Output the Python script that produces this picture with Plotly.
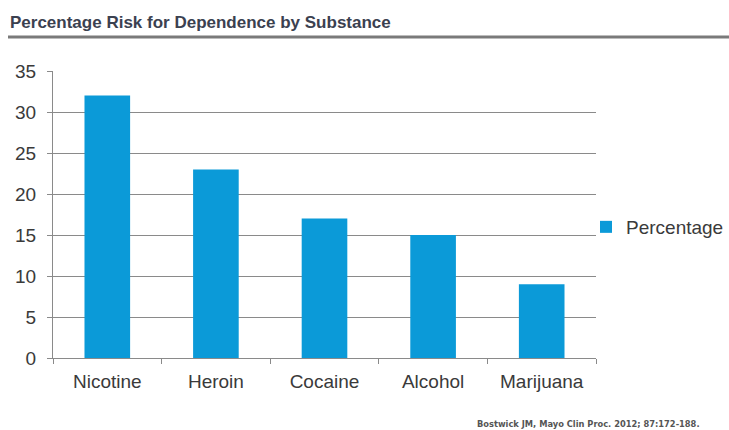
import plotly.graph_objects as go

substances = ["Nicotine", "Heroin", "Cocaine", "Alcohol", "Marijuana"]
risk_pct = [32, 23, 17, 15, 9]
y_ticks = [0, 5, 10, 15, 20, 25, 30, 35]

# plot area in pixels (figure is 729 x 430)
W, H = 729, 430
L, R, T, B = 53, 596, 71, 358
pw, ph = R - L, B - T

def px_x(x):
    return (x - L) / pw

def px_y(y):
    return (B - y) / ph

label_col = "#3a3a3a"
fig = go.Figure(
    go.Bar(
        x=substances,
        y=risk_pct,
        name="Percentage",
        marker=dict(color="#0B9AD8", line=dict(width=0)),
    )
)

grey = "#8a8a8a"
fig.update_layout(
    width=W,
    height=H,
    margin=dict(l=L, r=W - R, t=T, b=H - B, pad=0, autoexpand=False),
    paper_bgcolor="white",
    plot_bgcolor="white",
    bargap=0.58,
    font=dict(family="Liberation Sans, Arial, sans-serif", color=label_col, size=19),
    showlegend=True,
    legend=dict(
        x=px_x(586),
        y=px_y(227),
        xanchor="left",
        yanchor="middle",
        font=dict(size=19, color=label_col),
        bgcolor="rgba(0,0,0,0)",
        itemwidth=30,
    ),
    xaxis=dict(
        type="category",
        showline=True,
        linecolor=grey,
        linewidth=1,
        ticks="outside",
        tickson="boundaries",
        ticklen=5,
        tickcolor=grey,
        showgrid=False,
        tickfont=dict(size=19, color=label_col),
        ticklabelstandoff=6,
    ),
    yaxis=dict(
        range=[0, 35],
        tickvals=y_ticks,
        showline=True,
        linecolor=grey,
        linewidth=1,
        ticks="outside",
        ticklen=5,
        tickcolor=grey,
        showgrid=True,
        gridcolor=grey,
        gridwidth=1,
        zeroline=False,
        tickfont=dict(size=19, color=label_col),
        ticklabelstandoff=7,
    ),
    shapes=[
        dict(
            type="line",
            xref="paper",
            yref="paper",
            x0=px_x(8),
            x1=px_x(729),
            y0=px_y(37),
            y1=px_y(37),
            line=dict(color="#7a7a7a", width=3),
        )
    ],
    annotations=[
        dict(
            text="<b>Percentage Risk for Dependence by Substance</b>",
            xref="paper",
            yref="paper",
            x=px_x(8),
            y=px_y(22),
            xanchor="left",
            yanchor="middle",
            showarrow=False,
            font=dict(
                family="Liberation Sans, Arial, sans-serif",
                size=17,
                color="#3b4150",
            ),
        ),
        dict(
            text="<b>Bostwick JM, Mayo Clin Proc. 2012; 87:172-188.</b>",
            xref="paper",
            yref="paper",
            x=px_x(475),
            y=px_y(424),
            xanchor="left",
            yanchor="middle",
            showarrow=False,
            font=dict(family="DejaVu Sans, sans-serif", size=8.3, color="#555555"),
        ),
    ],
)

fig.write_html("out.html")
